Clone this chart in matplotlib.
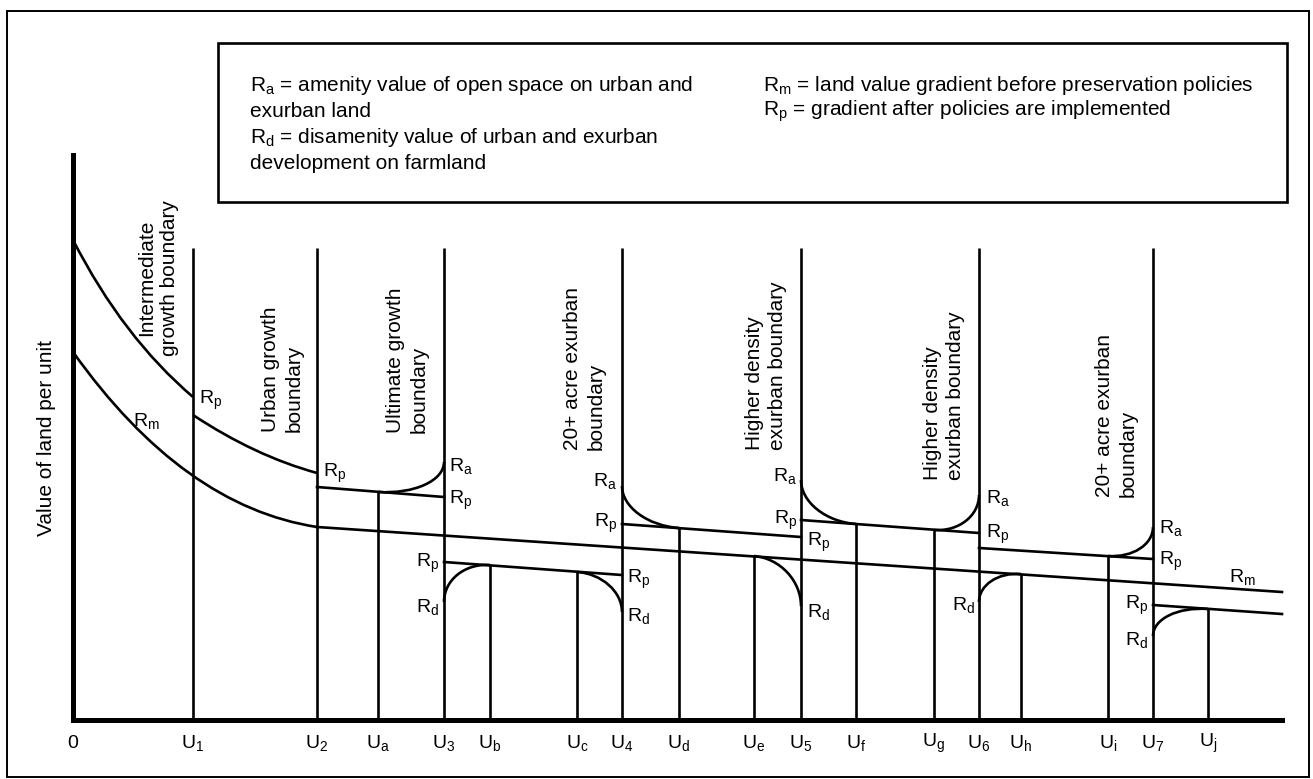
"""Land value gradients with nested growth / exurban boundaries (schematic)."""

import matplotlib

matplotlib.use("Agg")
import matplotlib.pyplot as plt
import numpy as np
from matplotlib.path import Path
from matplotlib.patches import PathPatch, Rectangle

plt.rcParams["font.family"] = ["Liberation Sans", "DejaVu Sans"]
plt.rcParams["mathtext.fontset"] = "custom"
plt.rcParams["mathtext.rm"] = "Liberation Sans"
plt.rcParams["mathtext.it"] = "Liberation Sans:italic"

# ---- values (x = distance from centre, y = land value) ----
BOUNDARY_X = [120, 244, 371, 549, 728, 906, 1080]          # U1..U7
BOUNDARY_TOP = 472
BOUNDARY_TICKS = ["U$_1$", "U$_2$", "U$_3$", "U$_4$", "U$_5$", "U$_6$", "U$_7$"]

MINOR_X = [305, 417, 504, 606, 681, 783, 861, 948, 1035, 1135]   # Ua..Uj
MINOR_TOP = [228, 155, 148, 192, 164, 196, 190, 146, 164, 111]
MINOR_TICKS = [r"U$_\mathrm{%s}$" % c for c in "abcdefghij"]

AXIS_END_X = 1209
AXIS_TOP_Y = 565

# smooth gradients: start, mid, end
RP_CENTRE = [(0, 480), (55, 392), (120, 323)]
RP_RING = [(120, 305), (182, 270), (244, 247)]
RM_CURVE = [(0, 368), (116, 247), (244, 193)]

# straight part of Rm
RM_LINE_X = [244, 1209]
RM_LINE_Y = [193, 128]

# straight Rp segments (x0, y0, x1, y1)
RP_SEG_X0 = [244, 371, 549, 728, 906, 1080]
RP_SEG_Y0 = [233, 158, 196, 200, 172, 115]
RP_SEG_X1 = [371, 549, 728, 906, 1080, 1209]
RP_SEG_Y1 = [223, 145, 183, 187, 161, 106]

# amenity / disamenity bends: start, corner, end
BENDS = [
    [(305, 228), (371, 224), (371, 258)],   # Ra at U3
    [(371, 118), (371, 158), (417, 155)],   # Rd at U3
    [(504, 148), (549, 145), (549, 108)],   # Rd at U4
    [(549, 234), (549, 196), (606, 192)],   # Ra at U4
    [(681, 164), (728, 160), (728, 114)],   # Rd at U5
    [(728, 240), (728, 200), (783, 196)],   # Ra at U5
    [(861, 190), (906, 187), (906, 225)],   # Ra at U6
    [(906, 118), (906, 149), (948, 146)],   # Rd at U6
    [(1035, 164), (1080, 161), (1080, 193)],  # Ra at U7
    [(1080, 84), (1080, 115), (1135, 111)],  # Rd at U7
]

CURVE_LABELS = [
    ("p", 126, 320, "left"), ("m", 73, 299, "center"), ("p", 250, 247, "left"),
    ("a", 376, 254, "left"), ("p", 376, 220, "left"),
    ("p", 366, 157, "right"), ("d", 366, 113, "right"),
    ("a", 544, 239, "right"), ("p", 544, 197, "right"),
    ("p", 554, 141, "left"), ("d", 554, 104, "left"),
    ("a", 724, 244, "right"), ("p", 724, 200, "right"),
    ("p", 734, 178, "left"), ("d", 734, 108, "left"),
    ("a", 913, 222, "left"), ("p", 913, 186, "left"),
    ("d", 902, 115, "right"),
    ("a", 1086, 192, "left"), ("p", 1086, 159, "left"),
    ("m", 1169, 143, "center"),
    ("p", 1075, 115, "right"), ("d", 1075, 80, "right"),
]

ZONE_LABELS = [
    ("Intermediate\ngrowth boundary", 85, 442, "center"),
    ("Urban growth\nboundary", 209, 288, "bottom"),
    ("Ultimate growth\nboundary", 334, 287, "bottom"),
    ("20+ acre exurban\nboundary", 511, 270, "bottom"),
    ("Higher density\nexurban boundary", 693, 270, "bottom"),
    ("Higher density\nexurban boundary", 871, 240, "bottom"),
    ("20+ acre exurban\nboundary", 1043, 223, "bottom"),
]

KEY_LEFT = [
    r"R$_\mathrm{a}$ = amenity value of open space on urban and",
    "exurban land",
    r"R$_\mathrm{d}$ = disamenity value of urban and exurban",
    "development on farmland",
]
KEY_RIGHT = [
    r"R$_\mathrm{m}$ = land value gradient before preservation policies",
    r"R$_\mathrm{p}$ = gradient after policies are implemented",
]
KEY_ROWS_Y = [635, 609, 583, 557]

FS = 15
FS_SMALL = 14
LW = 1.9
ROUND = 0.55   # how far the bend's handles reach toward its corner


def through(ax, pts):
    """Quadratic curve that passes through the middle read point."""
    p0, mid, p1 = (np.asarray(p, float) for p in pts)
    ctrl = 2 * mid - (p0 + p1) / 2
    path = Path([p0, ctrl, p1], [Path.MOVETO, Path.CURVE3, Path.CURVE3])
    ax.add_patch(PathPatch(path, fill=False, lw=LW, ec="black"))


def bend(ax, pts):
    """Rounded (quarter-ellipse like) bend between two ends around a corner."""
    p0, corner, p1 = (np.asarray(p, float) for p in pts)
    c1 = p0 + ROUND * (corner - p0)
    c2 = p1 + ROUND * (corner - p1)
    path = Path([p0, c1, c2, p1], [Path.MOVETO, Path.CURVE4, Path.CURVE4, Path.CURVE4])
    ax.add_patch(PathPatch(path, fill=False, lw=LW, ec="black"))


fig = plt.figure(figsize=(13.13, 7.79), dpi=100)
ax = fig.add_axes([0, 0, 1, 1])
ax.set_xlim(-73, 1240)
ax.set_ylim(-59, 720)
ax.axis("off")

# outer frame and key box
ax.add_patch(Rectangle((-66, -57), 1302, 766, fill=False, lw=1.4, ec="black"))
ax.add_patch(Rectangle((145, 518), 1069, 159, fill=False, lw=1.9, ec="black"))
for i, s in enumerate(KEY_LEFT):
    ax.text(177, KEY_ROWS_Y[i], s, fontsize=FS, va="center")
for i, s in enumerate(KEY_RIGHT):
    ax.text(690, KEY_ROWS_Y[i], s, fontsize=FS, va="center")

# axes
ax.plot([0, 0], [0, AXIS_TOP_Y], color="black", lw=3.6, solid_capstyle="projecting")
ax.plot([0, AXIS_END_X], [0, 0], color="black", lw=3.6, solid_capstyle="projecting")
ax.text(-26, 282, "Value of land per unit", rotation=90, fontsize=FS,
        ha="center", va="center")

# boundaries
ax.vlines(BOUNDARY_X, 0, BOUNDARY_TOP, color="black", lw=LW)
ax.vlines(MINOR_X, 0, MINOR_TOP, color="black", lw=LW)

ticks_x = [0] + BOUNDARY_X + MINOR_X
ticks_s = ["0"] + BOUNDARY_TICKS + MINOR_TICKS
for x, s in zip(ticks_x, ticks_s):
    ax.text(x, -23, s, fontsize=FS_SMALL, ha="center", va="center")

# gradients
through(ax, RP_CENTRE)
through(ax, RP_RING)
through(ax, RM_CURVE)
ax.plot(RM_LINE_X, RM_LINE_Y, color="black", lw=LW)
for x0, y0, x1, y1 in zip(RP_SEG_X0, RP_SEG_Y0, RP_SEG_X1, RP_SEG_Y1):
    ax.plot([x0, x1], [y0, y1], color="black", lw=LW)
for pts in BENDS:
    bend(ax, pts)

for sub, x, y, ha in CURVE_LABELS:
    ax.text(x, y, r"R$_\mathrm{%s}$" % sub, fontsize=FS_SMALL, ha=ha, va="center")

for s, x, y, anchor in ZONE_LABELS:
    if anchor == "center":
        ax.text(x, y, s, rotation=90, fontsize=FS, ha="center", va="center",
                multialignment="center", linespacing=1.3)
    else:
        ax.text(x, y, s, rotation=90, fontsize=FS, ha="center", va="bottom",
                multialignment="left", linespacing=1.3)

fig.savefig("out.png", dpi=100)
